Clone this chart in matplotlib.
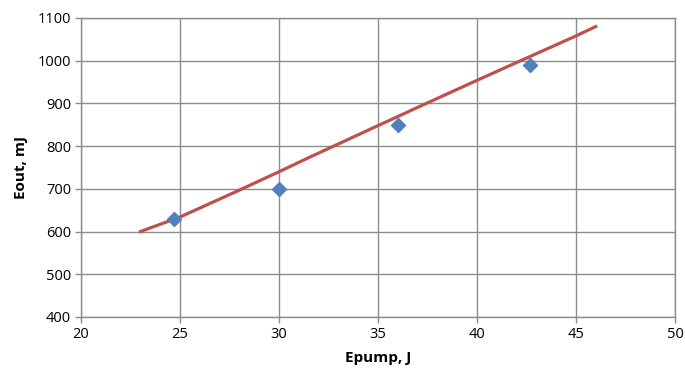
import matplotlib.pyplot as plt

# measured points
epump = [24.7, 30.0, 36.0, 42.7]
eout = [630, 700, 850, 990]

# fitted curve
fit_x = [23.0, 25.0, 28.0, 30.0, 31.5, 35.0, 37.25, 40.0, 42.3, 45.0, 46.0]
fit_y = [600, 634, 697, 740, 773, 848, 896, 954, 1002, 1058, 1080]

x_ticks = [20, 25, 30, 35, 40, 45, 50]
y_ticks = [400, 500, 600, 700, 800, 900, 1000, 1100]

plt.rcParams['font.family'] = ['Open Sans', 'DejaVu Sans']

fig = plt.figure(figsize=(6.85, 3.78), dpi=100)
ax = fig.add_axes([0.1182, 0.1614, 0.8672, 0.791])

ax.plot(fit_x, fit_y, color='#C0504D', lw=2.3, zorder=3)
ax.plot(epump, eout, 'D', color='#4F81BD', ms=7.5, mec='#4F81BD', zorder=4, clip_on=False)

ax.set_xlim(20, 50)
ax.set_ylim(400, 1100)
ax.set_xticks(x_ticks)
ax.set_yticks(y_ticks)
ax.grid(True, color='#8c8c8c', lw=1)
ax.set_axisbelow(True)
for s in ax.spines.values():
    s.set_color('#8c8c8c')
    s.set_linewidth(1)
ax.tick_params(direction='out', length=4, width=1, color='#8c8c8c',
               labelsize=10.5, labelcolor='black', pad=3)

ax.set_xlabel('Epump, J', fontsize=11, fontweight='bold', labelpad=7)
ax.set_ylabel('Eout, mJ', fontsize=11, fontweight='bold', labelpad=7)

fig.savefig('out.png', dpi=100)
